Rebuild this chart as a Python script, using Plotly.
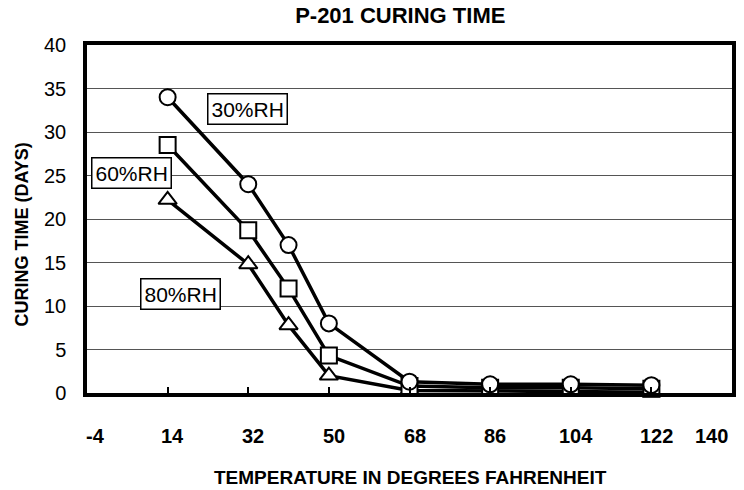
import plotly.graph_objects as go

temps = [14, 32, 41, 50, 68, 86, 104, 122]
rh30 = [34, 24, 17, 8, 1.3, 1.0, 1.0, 0.9]
rh60 = [28.5, 18.7, 12, 4.3, 0.8, 0.6, 0.6, 0.5]
rh80 = [22.2, 14.8, 7.8, 2.0, 0.3, 0.2, 0.2, 0.1]

x_ticks = [-4, 14, 32, 50, 68, 86, 104, 122, 140]
y_ticks = [0, 5, 10, 15, 20, 25, 30, 35, 40]

FONT = "Liberation Sans, Arial"

fig = go.Figure()
mk = dict(size=16, color="white", line=dict(color="black", width=2))
for name, vals, sym in [("80%RH", rh80, "triangle-up"), ("60%RH", rh60, "square"), ("30%RH", rh30, "circle")]:
    fig.add_trace(go.Scatter(x=temps, y=vals, mode="lines+markers", name=name,
                             line=dict(color="black", width=3.5),
                             marker=dict(symbol=sym, **mk), cliponaxis=False, hoverinfo="skip"))

labels = [("30%RH", 31.8, 32.6), ("60%RH", 6.0, 25.3), ("80%RH", 16.8, 11.4)]
for t, x, y in labels:
    fig.add_annotation(x=x, y=y, text=t, showarrow=False, xanchor="center", yanchor="middle",
                       font=dict(family=FONT, size=21, color="black"),
                       bordercolor="black", borderwidth=1.5, borderpad=3, bgcolor="white")

# x tick labels (placed below the axis like in the original)
n = len(x_ticks)
for i, v in enumerate(x_ticks):
    shift = 8 if i == 0 else (-21 if i == n - 1 else 5)
    fig.add_annotation(x=v, y=0, yref="paper", yshift=-43, xshift=shift, text=f"<b>{v}</b>",
                       xanchor="center", yanchor="middle",
                       showarrow=False, font=dict(family=FONT, size=20, color="black"))

fig.add_annotation(x=0.501, y=-0.244, xref="paper", yref="paper", text="<b>TEMPERATURE IN DEGREES FAHRENHEIT</b>",
                   xanchor="center", yanchor="middle",
                   showarrow=False, font=dict(family=FONT, size=19, color="black"))
fig.add_annotation(x=-0.1, y=0.454, xref="paper", yref="paper", text="<b>CURING TIME (DAYS)</b>", textangle=-90,
                   xanchor="center", yanchor="middle",
                   showarrow=False, font=dict(family=FONT, size=18, color="black"))

fig.update_layout(
    width=744, height=490, showlegend=False,
    paper_bgcolor="white", plot_bgcolor="white",
    margin=dict(l=87, r=12, t=45, b=97, autoexpand=False),
    title=dict(text="<b>P-201 CURING TIME</b>", x=0.538, xanchor="center", y=0.968, yanchor="middle",
               font=dict(family=FONT, size=22, color="black")),
)
fig.update_xaxes(range=[-4, 140], tickvals=x_ticks, showticklabels=False, automargin=False,
                 showgrid=False, zeroline=False, showline=True, linecolor="black", linewidth=3.5, mirror=True,
                 ticks="inside", ticklen=6, tickwidth=1.5, tickcolor="black")
fig.update_yaxes(range=[0, 40], tickvals=y_ticks, showgrid=True, gridcolor="#555", gridwidth=1.3,
                 zeroline=False, showline=True, linecolor="black", linewidth=3.5, mirror=True, automargin=False,
                 ticks="", ticklabelstandoff=13,
                 tickfont=dict(family=FONT, size=20, color="black"))

fig.write_html("out.html", config={"displayModeBar": False},
               post_script="document.body.style.margin='0px';document.body.style.overflow='hidden';")
